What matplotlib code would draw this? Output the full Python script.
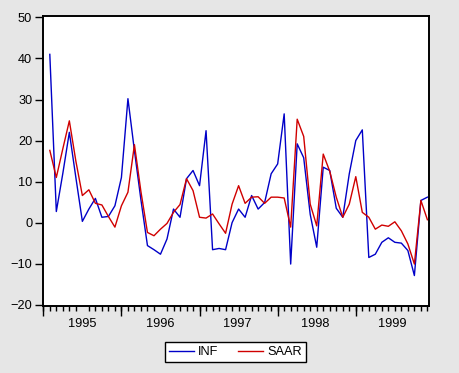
import matplotlib
matplotlib.use("Agg")
import matplotlib.pyplot as plt
import numpy as np
import pandas as pd

plt.rcParams['font.family'] = ['Liberation Sans', 'DejaVu Sans']

# Monthly observations Feb 1995 .. Dec 1999
months = pd.period_range('1995-02', '1999-12', freq='M')
year_labels = ['1995', '1996', '1997', '1998', '1999']

inf = [41.0, 2.7, 12.0, 22.0, 11.0, 0.3, 3.3, 5.9, 1.3, 1.5, 4.1, 11.0,
       30.2, 17.5, 5.5, -5.6, -6.6, -7.7, -4.0, 3.3, 1.3, 10.7, 12.7, 9.0,
       22.4, -6.6, -6.3, -6.6, 0.0, 3.3, 1.3, 6.6, 3.3, 4.9, 11.9, 14.3,
       26.5, -10.1, 19.2, 15.8, 2.0, -6.0, 13.5, 12.7, 3.5, 1.3, 11.9, 20.0,
       22.6, -8.5, -7.7, -4.8, -3.7, -4.8, -5.0, -6.8, -12.9, 5.4, 6.2]
saar = [17.6, 11.0, 18.0, 24.8, 15.0, 6.6, 8.0, 4.7, 4.3, 1.5, -1.1, 4.1,
        7.4, 19.0, 7.5, -2.4, -3.2, -1.6, -0.2, 2.5, 4.4, 10.7, 7.8, 1.3,
        1.1, 2.1, -0.3, -2.6, 4.5, 9.0, 4.7, 6.2, 6.3, 4.7, 6.2, 6.2,
        6.0, -1.1, 25.2, 21.0, 4.5, -0.8, 16.7, 12.5, 6.2, 1.3, 4.5, 11.2,
        2.5, 1.3, -1.6, -0.6, -0.9, 0.2, -2.0, -5.2, -10.1, 5.4, 0.7]

x = np.array([(p.year - 1995) * 12 + p.month - 1 for p in months])

bg = '#E6E6E6'
fig = plt.figure(figsize=(4.6, 3.73), dpi=100, facecolor=bg)
ax = fig.add_axes([43.3 / 460, 1 - 305.7 / 373, (428.7 - 43.3) / 460, (305.7 - 16) / 373])
ax.set_facecolor('white')

ax.plot(x, inf, color='#0000C8', lw=1.0, label='INF')
ax.plot(x, saar, color='#D00000', lw=1.0, label='SAAR')

ax.set_xlim(0, 59.2)
ax.set_ylim(-20.25, 50.35)

for s in ax.spines.values():
    s.set_linewidth(1.4)
    s.set_color('black')

fs = 9.2
ax.set_yticks(np.arange(-20, 51, 10))
ax.tick_params(axis='y', direction='out', length=5.5, width=1.0, pad=2.5, labelsize=fs)

# year labels centred within each year, monthly minor ticks
label_pos = [6, 18, 29.8, 41.8, 53.6]
ax.set_xticks(label_pos)
ax.set_xticklabels(year_labels)
ax.set_xticks(np.arange(0, 60, 1), minor=True)
ax.tick_params(axis='x', which='major', length=0, pad=8.5, labelsize=fs)
ax.tick_params(axis='x', which='minor', direction='out', length=3.5, width=1.0)

sec = ax.secondary_xaxis('bottom')
sec.set_xticks([0, 12, 24, 36, 48])
sec.set_xticklabels([])
sec.tick_params(axis='x', direction='out', length=7, width=1.0)
sec.spines['bottom'].set_visible(False)

leg = fig.legend(loc='center', bbox_to_anchor=(235.3 / 460, 1 - 352.2 / 373), ncol=2,
                 fancybox=False, edgecolor='black', framealpha=1, fontsize=fs,
                 handlelength=2.0, handletextpad=0.3, columnspacing=1.5,
                 borderpad=0.3)
leg.get_frame().set_linewidth(1.0)

fig.savefig('out.png', dpi=100, facecolor=bg)
